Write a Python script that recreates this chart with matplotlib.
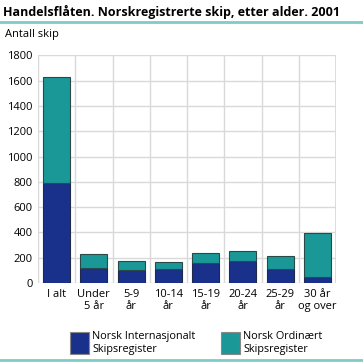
import matplotlib
matplotlib.use("Agg")
import matplotlib.pyplot as plt
import numpy as np

categories = ["I alt", "Under\n5 år", "5-9\når", "10-14\når", "15-19\når", "20-24\når", "25-29\når", "30 år\nog over"]
nis = [791, 116, 100, 108, 158, 174, 108, 47]
nor = [841, 111, 72, 56, 77, 79, 103, 346]
series_names = ["Norsk Internasjonalt\nSkipsregister", "Norsk Ordinært\nSkipsregister"]
yticks = [0, 200, 400, 600, 800, 1000, 1200, 1400, 1600, 1800]

plt.rcParams['font.family'] = ['Open Sans', 'DejaVu Sans']
W, H = 363, 362
fig = plt.figure(figsize=(W/100, H/100), dpi=100)

dark = "#1a318c"
teal = "#1a9898"
grid = "#d9d9d9"
line_teal = "#7fcbc8"

ax = fig.add_axes([38/W, 1-283/H, (336-38)/W, (283-55.4)/H])
x = np.arange(len(categories))
ax.bar(x, nis, width=0.72, color=dark, edgecolor="#1f2a4a", linewidth=0.8, zorder=3)
ax.bar(x, nor, bottom=nis, width=0.72, color=teal, edgecolor="#2a4a4a", linewidth=0.8, zorder=3)
ax.set_xlim(-0.5, len(categories)-0.5)
ax.set_ylim(0, 1800)
ax.set_yticks(yticks)
ax.set_yticklabels([str(v) for v in yticks], fontsize=8)
ax.set_xticks(x)
ax.set_xticklabels(categories, fontsize=8, linespacing=1.2)
ax.tick_params(length=0, pad=4)
for s in ax.spines.values():
    s.set_visible(False)
for v in yticks:
    ax.axhline(v, color=grid, lw=1.0, zorder=1)
for b in np.arange(-0.5, len(categories), 1.0):
    ax.axvline(b, color=grid, lw=1.0, zorder=1)
ax.axvline(len(categories)-0.5, color=grid, lw=2.0, zorder=1)

fig.text(3/W, 1-12/H, "Handelsflåten. Norskregistrerte skip, etter alder. 2001",
         fontsize=9.0, fontweight="bold", va="center", ha="left")
fig.add_artist(plt.Line2D([0, 1], [1-22/H, 1-22/H], color=line_teal, lw=2))
fig.text(5/W, 1-35/H, "Antall skip", fontsize=8, va="center", ha="left")
fig.add_artist(plt.Line2D([0, 1], [1-360/H, 1-360/H], color=line_teal, lw=2))

# legend
for px, col, name in [(70, dark, series_names[0]), (221, teal, series_names[1])]:
    fig.add_artist(plt.Rectangle((px/W, 1-354/H), 19/W, 22/H, facecolor=col,
                                 edgecolor="#888888", lw=0.8, transform=fig.transFigure))
    fig.text((px+22)/W, 1-343/H, name, fontsize=7.8, va="center", ha="left", linespacing=1.15)

fig.savefig("out.png", dpi=100)
